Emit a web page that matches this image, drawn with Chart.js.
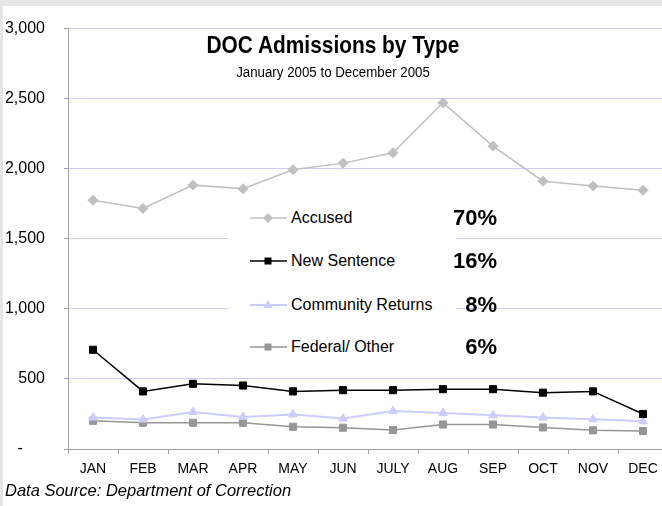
<!DOCTYPE html>
<html>
<head>
<meta charset="utf-8">
<script src="https://cdn.jsdelivr.net/npm/chart.js@4/dist/chart.umd.min.js"></script>
<style>
  html, body { margin: 0; padding: 0; width: 662px; height: 506px; overflow: hidden; background: #e6e6e6; }
  #panel { position: absolute; left: 3px; top: 6px; width: 700px; height: 500px; background: #fff; }
  #box { position: absolute; left: 0; top: 0; width: 680px; height: 506px; }
  .txt { position: absolute; font-family: 'Liberation Sans', Arial, sans-serif; color: #000; white-space: nowrap; }
  #title { left: 333px; top: 31px; transform: translateX(-50%) scaleX(0.87); font-size: 24px; font-weight: bold; }
  #subtitle { left: 333px; top: 64px; transform: translateX(-50%) scaleX(0.95); font-size: 14px; }
  #legend { position: absolute; left: 228px; top: 198px; width: 229px; height: 165px; background: #fff; }
  .row { position: absolute; left: 22px; height: 20px; font-family: 'Liberation Sans', Arial, sans-serif; font-size: 16px; line-height: 20px; white-space: nowrap; }
  .row svg { position: absolute; left: 0; top: 0; }
  .row span { position: absolute; left: 41px; top: 0; }
  .pct { position: absolute; font-family: 'Liberation Sans', Arial, sans-serif; font-weight: bold; font-size: 22px; line-height: 24px; width: 70px; left: 427px; text-align: right; }
  #source { left: 5px; top: 481px; font-size: 16.5px; font-style: italic; }
</style>
</head>
<body>
<div id="panel"></div>
<div id="box"><canvas id="chart" width="680" height="506"></canvas></div>
<div class="txt" id="title">DOC Admissions by Type</div>
<div class="txt" id="subtitle">January 2005 to December 2005</div>
<div id="legend"></div>
<div id="pcts"></div>
<div class="txt" id="source">Data Source: Department of Correction</div>
<script>
const months = ['JAN', 'FEB', 'MAR', 'APR', 'MAY', 'JUN', 'JULY', 'AUG', 'SEP', 'OCT', 'NOV', 'DEC'];
const accused = [1775, 1717, 1883, 1857, 1993, 2040, 2114, 2471, 2161, 1911, 1876, 1846];
const newSentence = [708, 411, 465, 453, 411, 420, 420, 427, 427, 402, 411, 250];
const communityReturns = [224, 210, 264, 229, 247, 217, 271, 257, 240, 224, 212, 198];
const federalOther = [201, 187, 187, 187, 159, 152, 135, 175, 175, 154, 133, 128];
const seriesNames = ['Accused', 'New Sentence', 'Community Returns', 'Federal/ Other'];
const shares = ['70%', '16%', '8%', '6%'];

const font = "'Liberation Sans', Arial, sans-serif";

function series(label, values, color, style, width) {
    return {
        label: label, data: values,
        borderColor: color, backgroundColor: color,
        pointStyle: style, pointRadius: 5, pointHoverRadius: 5,
        pointBorderWidth: 1, borderWidth: width, tension: 0
    };
}

const chart = new Chart(document.getElementById('chart'), {
    type: 'line',
    data: {
        labels: months,
        datasets: [
            series(seriesNames[0], accused, '#c0c0c0', 'rectRot', 1.5),
            series(seriesNames[1], newSentence, '#000000', 'rect', 1.5),
            series(seriesNames[2], communityReturns, '#ccccff', 'triangle', 2),
            series(seriesNames[3], federalOther, '#969696', 'rect', 1.5)
        ]
    },
    options: {
        responsive: false,
        animation: false,
        layout: { padding: { top: 21, right: 12, bottom: 17, left: 0 } },
        plugins: { legend: { display: false }, tooltip: { enabled: false } },
        scales: {
            x: {
                offset: true,
                grid: { offset: true, drawOnChartArea: false, drawTicks: true, tickLength: 5, color: '#a0a0a0' },
                border: { color: '#a0a0a0' },
                ticks: { color: '#000', padding: 7, maxRotation: 0, font: { family: font, size: 14 } },
                afterFit: s => { s.height = 40; }
            },
            y: {
                min: 0, max: 3000,
                grid: { color: '#ccccff', tickColor: '#a0a0a0', tickLength: 4 },
                border: { color: '#a0a0a0' },
                ticks: {
                    stepSize: 500, color: '#000', padding: 19,
                    font: { family: font, size: 16 },
                    callback: v => v === 0 ? '-     ' : v.toLocaleString('en-US')
                },
                afterFit: s => { s.width = 68; }
            }
        }
    }
});

// legend built from the chart's own datasets
const legend = document.getElementById('legend');
const pcts = document.getElementById('pcts');
const rowTops = [218, 261, 305, 347];
chart.data.datasets.forEach((ds, i) => {
    const row = document.createElement('div');
    row.className = 'row';
    row.style.top = (rowTops[i] - 198 - 10) + 'px';
    let mark;
    if (ds.pointStyle === 'rectRot') {
        mark = `<polygon points="18,5 23,10 18,15 13,10" fill="${ds.borderColor}"/>`;
    } else if (ds.pointStyle === 'triangle') {
        mark = `<polygon points="18,5 23,13 13,13" fill="${ds.borderColor}"/>`;
    } else {
        mark = `<rect x="14.5" y="6.5" width="7" height="7" fill="${ds.borderColor}"/>`;
    }
    row.innerHTML = `<svg width="38" height="20"><line x1="0" y1="10" x2="37" y2="10" stroke="${ds.borderColor}" stroke-width="${ds.borderWidth}"/>${mark}</svg><span>${ds.label}</span>`;
    legend.appendChild(row);

    const p = document.createElement('div');
    p.className = 'pct';
    p.style.top = (rowTops[i] - 12) + 'px';
    p.textContent = shares[i];
    pcts.appendChild(p);
});
</script>
</body>
</html>
